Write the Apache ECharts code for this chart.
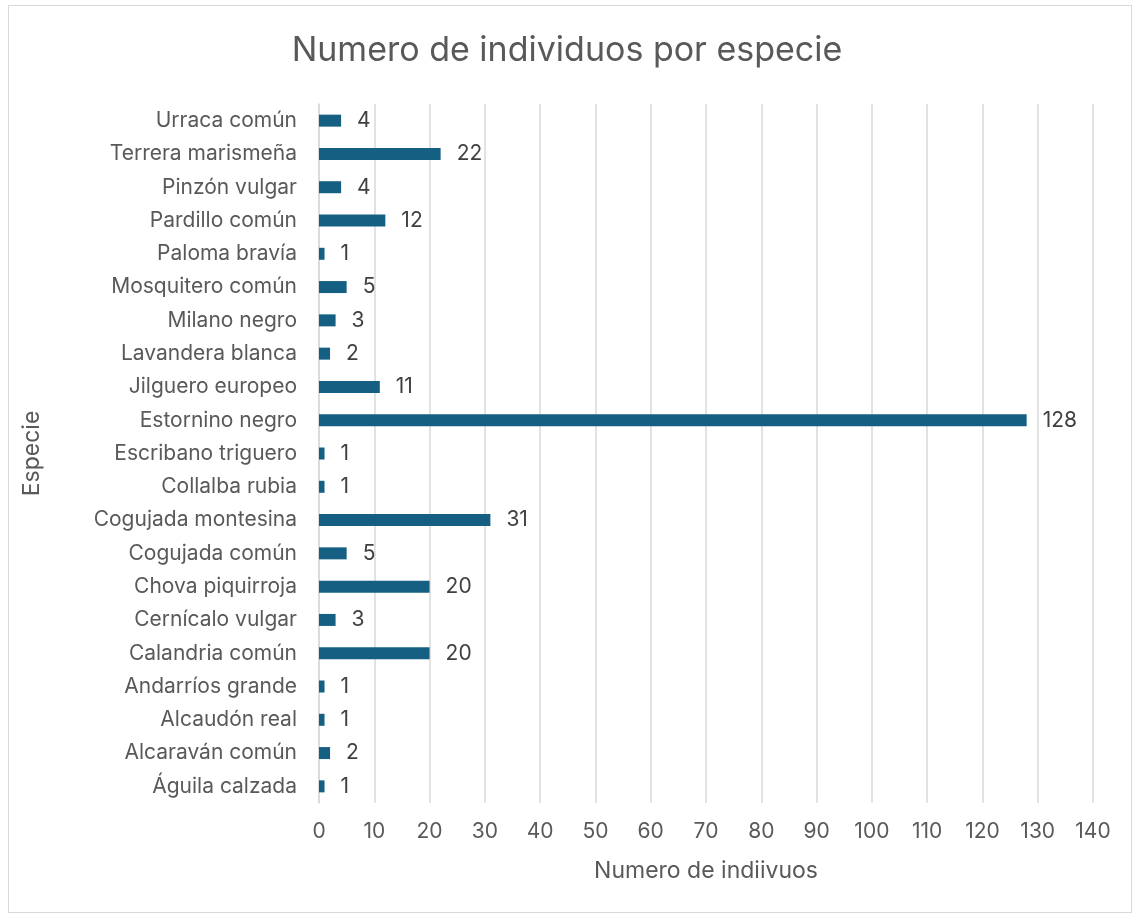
<!DOCTYPE html>
<html>
<head>
<meta charset="utf-8">
<script src="https://cdn.jsdelivr.net/npm/echarts@6/dist/echarts.min.js"></script>
<style>
html,body{margin:0;padding:0;background:#fff;}
#frame{position:absolute;left:8px;top:5px;width:1124px;height:908px;border:1.5px solid #d9d9d9;box-sizing:border-box;}
#chart{position:absolute;left:0;top:0;width:1134px;height:916px;}
</style>
</head>
<body>
<div id="frame"></div>
<div id="chart"></div>
<script>
const categories = ["Águila calzada","Alcaraván común","Alcaudón real","Andarríos grande","Calandria común","Cernícalo vulgar","Chova piquirroja","Cogujada común","Cogujada montesina","Collalba rubia","Escribano triguero","Estornino negro","Jilguero europeo","Lavandera blanca","Milano negro","Mosquitero común","Paloma bravía","Pardillo común","Pinzón vulgar","Terrera marismeña","Urraca común"];
const values = [1,2,1,1,20,3,20,5,31,1,1,128,11,2,3,5,1,12,4,22,4];
const font = "Inter, sans-serif";
const chart = echarts.init(document.getElementById('chart'), null, {renderer:'canvas'});
chart.setOption({
  animation:false,
  title:{text:'Numero de individuos por especie',left:'center',top:29,
    textStyle:{fontFamily:font,fontSize:34,fontWeight:'normal',color:'#595959'}},
  grid:{left:319,right:41,top:104,bottom:113,containLabel:false},
  xAxis:{type:'value',min:0,max:140,interval:10,
    name:'Numero de indiivuos',nameLocation:'middle',nameGap:57,
    nameTextStyle:{fontFamily:font,fontSize:23,color:'#595959'},
    axisLine:{show:false},axisTick:{show:false},
    axisLabel:{fontFamily:font,fontSize:21,color:'#595959',margin:18},
    splitLine:{show:true,lineStyle:{color:'#d9d9d9',width:1.5}}},
  yAxis:{type:'category',data:categories,
    name:'Especie',nameLocation:'middle',nameGap:275,nameRotate:90,
    nameTextStyle:{fontFamily:font,fontSize:23,color:'#595959'},
    axisLine:{show:true,lineStyle:{color:'#d9d9d9',width:1.5}},axisTick:{show:false},
    axisLabel:{fontFamily:font,fontSize:21,color:'#595959',margin:22}},
  series:[{type:'bar',data:values,barWidth:12,
    itemStyle:{color:'#156082'},
    label:{show:true,position:'right',distance:16,fontFamily:font,fontSize:21,color:'#404040'}}]
});
</script>
</body>
</html>
